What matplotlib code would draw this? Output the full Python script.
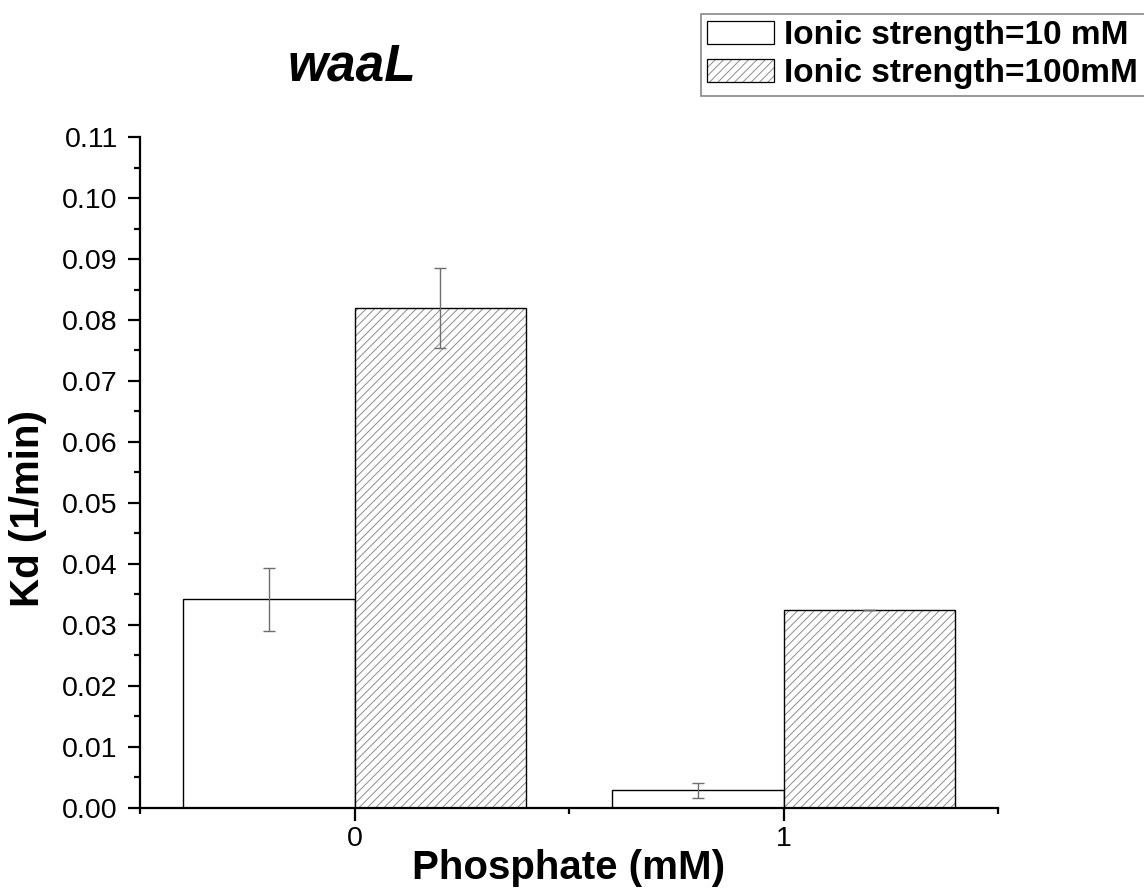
import matplotlib
matplotlib.use("Agg")
import matplotlib.pyplot as plt
from matplotlib.patches import Patch
from matplotlib.legend_handler import HandlerTuple
import numpy as np

plt.rcParams['font.family'] = ['Liberation Sans', 'DejaVu Sans']
plt.rcParams['hatch.linewidth'] = 0.7

categories = ['0', '1']
series_names = ['Ionic strength=10 mM', 'Ionic strength=100mM']
low_ionic = [0.0342, 0.0029]
low_ionic_err = [0.0052, 0.0012]
high_ionic = [0.0820, 0.0325]
high_ionic_err = [0.0066, 0.0]

fig = plt.figure(figsize=(11.44, 8.92), dpi=100)
ax = fig.add_axes([0.1224, 0.0942, 0.7500, 0.7522])

x = np.arange(len(categories))
w = 0.4
hatch_col = '#8c8c8c'

# low ionic strength bars (white)
ax.bar(x - w / 2, low_ionic, width=w, facecolor='white', edgecolor='black',
       linewidth=1.0, zorder=2)
# high ionic strength bars: gray hatch then black outline
ax.bar(x + w / 2, high_ionic, width=w, facecolor='white', edgecolor=hatch_col,
       hatch='////', linewidth=0, zorder=2)
ax.bar(x + w / 2, high_ionic, width=w, facecolor='none', edgecolor='black',
       linewidth=1.0, zorder=3)

ax.errorbar(x - w / 2, low_ionic, yerr=low_ionic_err, fmt='none',
            ecolor='#6e6e6e', elinewidth=1.0, capsize=4.3, capthick=1.0, zorder=4)
ax.errorbar(x + w / 2, high_ionic, yerr=high_ionic_err, fmt='none',
            ecolor='#6e6e6e', elinewidth=1.0, capsize=4.3, capthick=1.0, zorder=4)

ax.set_xlim(-0.5, 1.5)
ax.set_ylim(0, 0.11)
ax.set_xticks(x)
ax.set_xticklabels(categories)
ax.set_xticks([-0.5, 0.5, 1.5], minor=True)
yt = np.arange(0, 0.1101, 0.01)
ax.set_yticks(yt)
ax.set_yticklabels([f"{v:.2f}" for v in yt])
ax.set_yticks(np.arange(0.005, 0.11, 0.01), minor=True)

for side in ['top', 'right']:
    ax.spines[side].set_visible(False)
for side in ['left', 'bottom']:
    ax.spines[side].set_linewidth(1.6)

ax.tick_params(axis='both', which='major', direction='out', length=9, width=1.6,
               labelsize=20.5)
ax.tick_params(axis='both', which='minor', direction='out', length=4.5, width=1.6)
ax.tick_params(axis='y', which='major', pad=7)
ax.tick_params(axis='x', which='major', pad=4)

ax.set_xlabel('Phosphate (mM)', fontsize=29, fontweight='bold')
ax.xaxis.set_label_coords(0.5, -0.061)
ax.xaxis.label.set_verticalalignment('top')
ax.set_ylabel('Kd (1/min)', fontsize=29, fontweight='bold')
ax.yaxis.set_label_coords(-0.130, 0.447)
ax.yaxis.label.set_verticalalignment('center')

fig.text(0.3077, 0.925, 'waaL', fontsize=37, fontweight='bold', fontstyle='italic',
         ha='center', va='center')

h1 = Patch(facecolor='white', edgecolor='black', linewidth=0.9)
h2a = Patch(facecolor='white', edgecolor=hatch_col, hatch='////', linewidth=0)
h2b = Patch(facecolor='none', edgecolor='black', linewidth=0.9)
leg = fig.legend([h1, (h2a, h2b)], series_names,
                 handler_map={tuple: HandlerTuple(ndivide=1)},
                 loc='upper left', bbox_to_anchor=(0.6125, 0.9845),
                 prop={'weight': 'bold', 'size': 24}, frameon=True,
                 fancybox=False, edgecolor='#888888', framealpha=1,
                 handlelength=2.0, handleheight=0.7, handletextpad=0.3,
                 borderpad=0.2, labelspacing=0.2, borderaxespad=0)
leg.get_frame().set_linewidth(1.2)

fig.savefig('out.png', dpi=100)
